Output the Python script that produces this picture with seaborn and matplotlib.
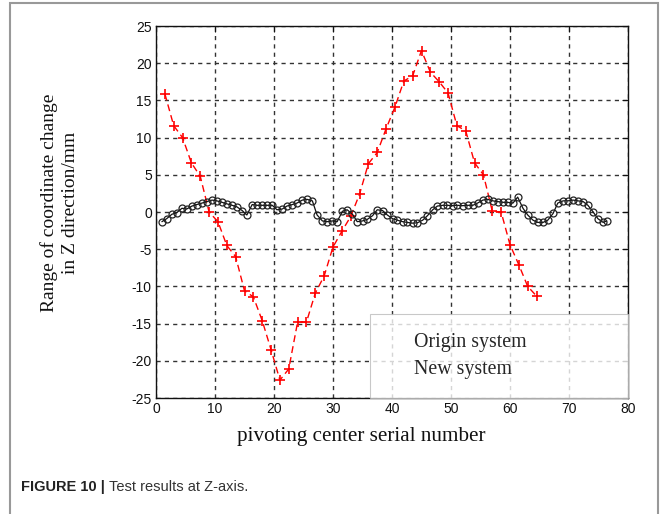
import numpy as np
import pandas as pd
import matplotlib
matplotlib.use("Agg")
import matplotlib.pyplot as plt
import seaborn as sns
from matplotlib.patches import Rectangle

# ---- data ----
red_x = [1.5, 3.0, 4.5, 6.0, 7.5, 9.0, 10.5, 12.0, 13.5, 15.0, 16.5, 18.0, 19.5, 21.0,
         22.5, 24.0, 25.5, 27.0, 28.5, 30.0, 31.5, 33.0, 34.5, 36.0, 37.5, 39.0, 40.5,
         42.0, 43.5, 45.0, 46.5, 48.0, 49.5, 51.0, 52.5, 54.0, 55.5, 57.0, 58.5, 60.0,
         61.5, 63.0, 64.5]
red_y = [15.9, 11.6, 10.0, 6.6, 4.8, 0.0, -1.3, -4.5, -6.0, -10.6, -11.4, -14.6, -18.5,
         -22.6, -21.1, -14.8, -14.8, -10.9, -8.6, -4.7, -2.6, -0.6, 2.4, 6.5, 8.0, 11.2,
         14.1, 17.6, 18.3, 21.7, 18.8, 17.5, 16.0, 11.6, 10.9, 6.6, 5.0, 0.1, 0.0, -4.4,
         -7.1, -10.0, -11.3]

black_x = [1.0, 1.8, 2.7, 3.5, 4.4, 5.2, 6.1, 6.9, 7.8, 8.6, 9.5, 10.3, 11.2, 12.0, 12.9,
           13.7, 14.6, 15.4, 16.3, 17.1, 18.0, 18.8, 19.7, 20.5, 21.4, 22.2, 23.1, 23.9,
           24.8, 25.6, 26.5, 27.3, 28.2, 29.0, 29.9, 30.7, 31.6, 32.4, 33.3, 34.1, 35.0,
           35.8, 36.7, 37.5, 38.4, 39.2, 40.1, 40.9, 41.8, 42.6, 43.5, 44.3, 45.2, 46.0,
           46.9, 47.7, 48.6, 49.4, 50.3, 51.1, 52.0, 52.8, 53.7, 54.5, 55.4, 56.2, 57.1,
           57.9, 58.8, 59.6, 60.5, 61.3, 62.2, 63.0, 63.9, 64.7, 65.6, 66.4, 67.3, 68.1,
           69.0, 69.8, 70.7, 71.5, 72.4, 73.2, 74.1, 74.9, 75.8, 76.4]
black_y = [-1.3, -0.9, -0.3, -0.1, 0.5, 0.4, 0.8, 1.0, 1.2, 1.4, 1.6, 1.5, 1.3, 1.1, 0.9,
           0.7, 0.2, -0.4, 1.0, 0.9, 0.9, 0.9, 0.9, 0.3, 0.4, 0.8, 1.0, 1.2,
           1.6, 1.7, 1.5, -0.4, -1.2, -1.3, -1.2, -1.3, 0.1, 0.3, -0.3, -1.3, -1.2,
           -1.0, -0.5, 0.3, 0.2, -0.4, -0.9, -1.1, -1.3, -1.4, -1.5, -1.45, -1.1, -0.5,
           0.3, 0.8, 0.9, 0.9, 0.85, 0.9, 0.85, 0.9, 0.9, 1.2, 1.6, 1.7, 1.5,
           1.4, 1.3, 1.3, 1.2, 2.0, 0.5, -0.4, -1.1, -1.4, -1.4, -1.1, -0.2, 1.2,
           1.5, 1.5, 1.6, 1.5, 1.4, 0.9, 0.0, -0.9, -1.4, -1.2]

series_labels = ["Origin system", "New system"]
x_ticks = [0, 10, 20, 30, 40, 50, 60, 70, 80]
y_ticks = [-25, -20, -15, -10, -5, 0, 5, 10, 15, 20, 25]

# ---- figure ----
sns.set_style("white")
W, H = 667, 514
fig = plt.figure(figsize=(W / 100, H / 100), dpi=100)
fig.patch.set_facecolor("white")

ax = fig.add_axes([156 / W, 1 - 398 / H, 472 / W, 372 / H])

sns.lineplot(x=red_x, y=red_y, ax=ax, color="red", linewidth=1.0, linestyle=(0, (5, 3)),
             marker="+", markersize=7.5, markeredgewidth=1.2, markeredgecolor="red",
             label=series_labels[0], sort=False, estimator=None)
sns.lineplot(x=black_x, y=black_y, ax=ax, color="#111111", linewidth=0.9,
             marker="o", markersize=5, markerfacecolor="none", markeredgecolor="#222222",
             markeredgewidth=0.9, label=series_labels[1], sort=False, estimator=None)

ax.set_xlim(0, 80)
ax.set_ylim(-25, 25)
ax.set_xticks(x_ticks)
ax.set_yticks(y_ticks)
ax.set_xticklabels([str(t) for t in x_ticks])
ax.set_yticklabels([str(t) for t in y_ticks])
ax.tick_params(direction="in", top=True, right=True, length=4, width=0.8,
               labelsize=10, colors="#111111", pad=3)
for lab in ax.get_xticklabels() + ax.get_yticklabels():
    lab.set_family("Liberation Sans")

ax.grid(True, color="#333333", linestyle=(0, (3, 3)), linewidth=1.0)
for s in ax.spines.values():
    s.set_color("#111111")
    s.set_linewidth(1.0)

ax.set_xlabel("pivoting center serial number", family="Liberation Serif",
              fontsize=15.2, color="#111111")
ax.xaxis.set_label_coords((361 - 156) / 472, -(437 - 398) / 372)
ax.xaxis.label.set_va("center")
ax.set_ylabel("Range of coordinate change\nin Z direction/mm", family="Liberation Serif",
              fontsize=14, color="#111111", linespacing=1.3)
ax.yaxis.set_label_coords(-(156 - 60) / 472, (398 - 203) / 372)
ax.yaxis.label.set_va("center")

leg = ax.legend(loc="lower left", bbox_to_anchor=(214 / 472, 0.0, 258 / 472, 0.2),
                mode="expand", borderaxespad=0, frameon=True, fancybox=False,
                handlelength=1.0, handletextpad=0.25, borderpad=0.95, labelspacing=0.4,
                prop={"family": "Liberation Serif", "size": 14.3})
leg.get_frame().set_edgecolor("#bbbbbb")
leg.get_frame().set_linewidth(0.8)
for h in leg.legend_handles:
    h.set_visible(False)

# caption
t1 = fig.text(21 / W, 1 - 487 / H, "FIGURE 10 |", family="Liberation Sans", weight="bold",
              fontsize=10.5, color="#222222", va="center", ha="left")
fig.canvas.draw()
bb = t1.get_window_extent(renderer=fig.canvas.get_renderer())
fig.text((bb.x1 + 4) / W, 1 - 487 / H, "Test results at Z-axis.", family="Liberation Sans",
         fontsize=10.5, color="#333333", va="center", ha="left")

# outer border
fig.add_artist(Rectangle((10 / W, -0.02), 648 / W, 1.02 - 3 / H, transform=fig.transFigure,
                         facecolor="none", edgecolor="#999999", linewidth=1.5))

fig.savefig("out.png", dpi=100)
